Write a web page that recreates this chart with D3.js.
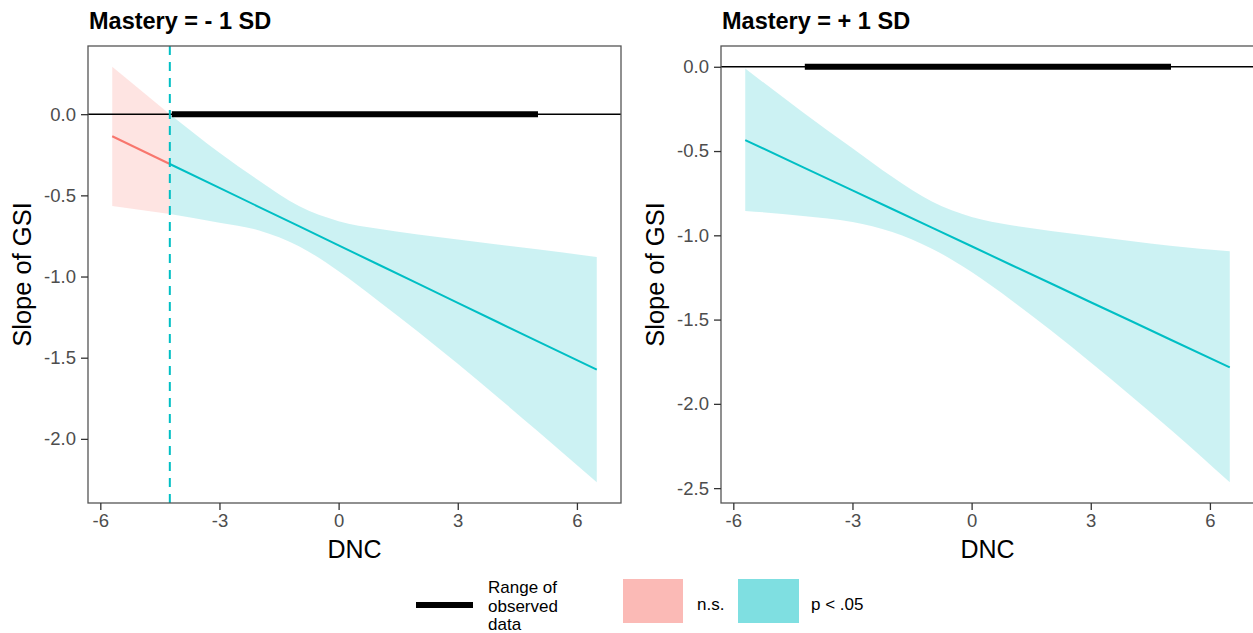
<!DOCTYPE html>
<html lang="en">
<head>
  <meta charset="UTF-8">
  <title>Johnson-Neyman plots</title>
  <script src="https://d3js.org/d3.v7.min.js"></script>
  <style>
    body, html {
      margin: 0;
      background: #fff;
      font-family: 'Liberation Sans', Arial, sans-serif;
    }
    .tick text { fill: #4d4d4d; }
  </style>
</head>
<body>
<svg id="chart" width="1253" height="633"></svg>

<script>
  // values
  const dnc = [-5.7, -4.25, -3, -2, -1, 0, 1, 2, 3, 4, 5, 6.5];

  // Mastery = -1 SD
  const lowSlope = [-0.136, -0.307, -0.454, -0.572, -0.690, -0.808, -0.926, -1.044, -1.162, -1.280, -1.398, -1.574];
  const lowUpper = [0.292, 0.0, -0.237, -0.41, -0.566, -0.659, -0.706, -0.741, -0.772, -0.802, -0.832, -0.88];
  const lowLower = [-0.566, -0.615, -0.669, -0.716, -0.813, -0.967, -1.15, -1.34, -1.538, -1.742, -1.95, -2.267];

  // Mastery = +1 SD
  const highSlope = [-0.435, -0.595, -0.733, -0.844, -0.954, -1.065, -1.176, -1.286, -1.397, -1.507, -1.618, -1.784];
  const highUpper = [-0.01, -0.27, -0.484, -0.653, -0.80, -0.891, -0.94, -0.974, -1.004, -1.034, -1.062, -1.095];
  const highLower = [-0.855, -0.885, -0.921, -0.98, -1.079, -1.218, -1.385, -1.565, -1.755, -1.95, -2.15, -2.465];

  const jnLow = -4.25;          // Johnson-Neyman point, -1 SD panel
  const jnHigh = null;          // none inside range for +1 SD
  const observedRange = [-4.2, 5.02];

  const xTicks = [-6, -3, 0, 3, 6];
  const yTicksLow = [0, -0.5, -1, -1.5, -2];
  const yTicksHigh = [0, -0.5, -1, -1.5, -2, -2.5];

  const panelTitles = ["Mastery = - 1 SD", "Mastery = + 1 SD"];

  const red = "#F8766D", teal = "#00BFC4";

  const svg = d3.select("#chart");

  function expand(ext) {
    const pad = (ext[1] - ext[0]) * 0.05;
    return [ext[0] - pad, ext[1] + pad];
  }

  function drawPanel(left, title, slope, upper, lower, jn, yTicks) {
    const top = 46, bottom = 503, w = 533;
    const rows = dnc.map((d, i) => ({ x: d, est: slope[i], hi: upper[i], lo: lower[i] }));

    const x = d3.scaleLinear().domain(expand(d3.extent(dnc))).range([left, left + w]);
    const yExt = [d3.min(lower.concat([0])), d3.max(upper.concat([0]))];
    const y = d3.scaleLinear().domain(expand(yExt)).range([bottom, top]);

    const g = svg.append("g");

    const area = d3.area().x(d => x(d.x)).y0(d => y(d.lo)).y1(d => y(d.hi)).curve(d3.curveMonotoneX);
    const line = d3.line().x(d => x(d.x)).y(d => y(d.est));

    const ns = jn === null ? [] : rows.filter(d => d.x <= jn);
    const sig = jn === null ? rows : rows.filter(d => d.x >= jn);

    if (ns.length) {
      g.append("path").datum(ns).attr("d", area).attr("fill", red).attr("fill-opacity", 0.2);
    }
    g.append("path").datum(sig).attr("d", area).attr("fill", teal).attr("fill-opacity", 0.2);

    // zero line and range of observed data
    g.append("line")
      .attr("x1", left).attr("x2", left + w)
      .attr("y1", y(0)).attr("y2", y(0))
      .attr("stroke", "#000").attr("stroke-width", 1.6);
    g.append("line")
      .attr("x1", x(observedRange[0])).attr("x2", x(observedRange[1]))
      .attr("y1", y(0)).attr("y2", y(0))
      .attr("stroke", "#000").attr("stroke-width", 6);

    if (ns.length) {
      g.append("path").datum(ns).attr("d", line).attr("fill", "none").attr("stroke", red).attr("stroke-width", 2);
    }
    g.append("path").datum(sig).attr("d", line).attr("fill", "none").attr("stroke", teal).attr("stroke-width", 2);

    if (jn !== null) {
      g.append("line")
        .attr("x1", x(jn)).attr("x2", x(jn))
        .attr("y1", top).attr("y2", bottom)
        .attr("stroke", teal).attr("stroke-width", 2)
        .attr("stroke-dasharray", "9,7");
    }

    // border
    g.append("rect")
      .attr("x", left).attr("y", top).attr("width", w).attr("height", bottom - top)
      .attr("fill", "none").attr("stroke", "#555").attr("stroke-width", 1.3);

    const xAxis = g.append("g")
      .attr("transform", `translate(0,${bottom})`)
      .call(d3.axisBottom(x).tickValues(xTicks).tickFormat(d => String(d)).tickSize(7).tickPadding(4));
    const yAxis = g.append("g")
      .attr("transform", `translate(${left},0)`)
      .call(d3.axisLeft(y).tickValues(yTicks).tickFormat(d => d.toFixed(1)).tickSize(7).tickPadding(5));

    [xAxis, yAxis].forEach(a => {
      a.select(".domain").remove();
      a.selectAll(".tick line").attr("stroke", "#333").attr("stroke-width", 1.3);
      a.selectAll(".tick text").style("font-size", "18.5px").style("font-family", "'Liberation Sans', Arial, sans-serif");
    });

    g.append("text")
      .attr("x", left + 1).attr("y", 29)
      .style("font-size", "23.5px").style("font-weight", "bold")
      .text(title);

    g.append("text")
      .attr("x", left + w / 2).attr("y", 558)
      .attr("text-anchor", "middle")
      .style("font-size", "25px")
      .text("DNC");

    g.append("text")
      .attr("transform", `translate(${left - 57},${(top + bottom) / 2}) rotate(-90)`)
      .attr("text-anchor", "middle")
      .style("font-size", "25.5px")
      .text("Slope of GSI");
  }

  drawPanel(88, panelTitles[0], lowSlope, lowUpper, lowLower, jnLow, yTicksLow);
  drawPanel(721, panelTitles[1], highSlope, highUpper, highLower, jnHigh, yTicksHigh);

  // legend
  const legend = svg.append("g").style("font-size", "17px");
  legend.append("line")
    .attr("x1", 416).attr("x2", 473).attr("y1", 605).attr("y2", 605)
    .attr("stroke", "#000").attr("stroke-width", 6);
  const rangeText = legend.append("text").attr("x", 488).attr("y", 593);
  ["Range of", "observed", "data"].forEach((t, i) => {
    rangeText.append("tspan").attr("x", 488).attr("dy", i === 0 ? 0 : 18.5).text(t);
  });

  legend.append("rect")
    .attr("x", 623).attr("y", 579).attr("width", 60).attr("height", 44)
    .attr("fill", red).attr("fill-opacity", 0.5);
  legend.append("text").attr("x", 697).attr("y", 610).text("n.s.");

  legend.append("rect")
    .attr("x", 738).attr("y", 579).attr("width", 61).attr("height", 44)
    .attr("fill", teal).attr("fill-opacity", 0.5);
  legend.append("text").attr("x", 811).attr("y", 610).text("p < .05");
</script>
</body>
</html>
